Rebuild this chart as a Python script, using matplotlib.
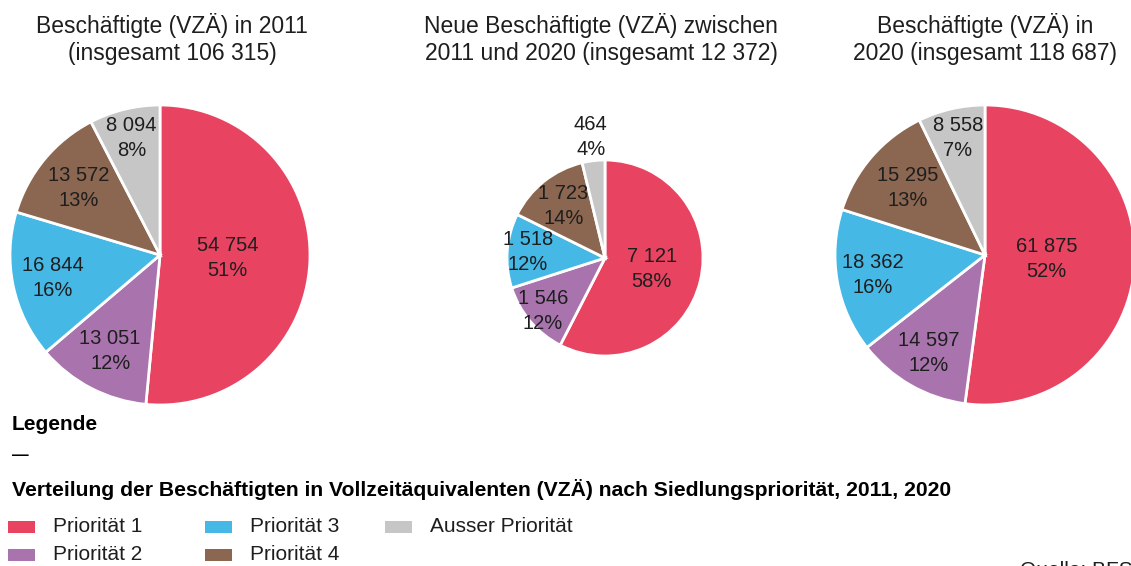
import numpy as np
import matplotlib
matplotlib.use("Agg")
import matplotlib.pyplot as plt
from matplotlib.patches import Rectangle

plt.rcParams['font.family'] = ['Liberation Sans', 'DejaVu Sans']

W, H = 1131, 566
TXT = '#1e1e1e'

categories = ['Priorität 1', 'Priorität 2', 'Priorität 3', 'Priorität 4', 'Ausser Priorität']
colors = ['#e84361', '#a974ae', '#45b8e5', '#8b6650', '#c6c6c6']

vals_2011 = [54754, 13051, 16844, 13572, 8094]
vals_new = [7121, 1546, 1518, 1723, 464]
vals_2020 = [61875, 14597, 18362, 15295, 8558]

lbl_2011 = ['54 754', '13 051', '16 844', '13 572', '8 094']
lbl_new = ['7 121', '1 546', '1 518', '1 723', '464']
lbl_2020 = ['61 875', '14 597', '18 362', '15 295', '8 558']

pct_2011 = ['51%', '12%', '16%', '13%', '8%']
pct_new = ['58%', '12%', '12%', '14%', '4%']
pct_2020 = ['52%', '12%', '16%', '13%', '7%']

titles = ['Beschäftigte (VZÄ) in 2011\n(insgesamt 106 315)',
          'Neue Beschäftigte (VZÄ) zwischen\n2011 und 2020 (insgesamt 12 372)',
          'Beschäftigte (VZÄ) in\n2020 (insgesamt 118 687)']

fig = plt.figure(figsize=(W / 100, H / 100), dpi=100)


def px_axes(cx, cy, r):
    return fig.add_axes([(cx - r) / W, (H - cy - r) / H, 2 * r / W, 2 * r / H])


def draw_pie(cx, cy, r, vals, lbls, pcts, dists):
    ax = px_axes(cx, cy, r)
    wedges, _ = ax.pie(vals, colors=colors, startangle=90, counterclock=False,
                       wedgeprops=dict(edgecolor='white', linewidth=2))
    for w, l, p, d in zip(wedges, lbls, pcts, dists):
        th = np.deg2rad((w.theta1 + w.theta2) / 2)
        ax.text(d * np.cos(th), d * np.sin(th), l + '\n' + p, ha='center', va='center',
                fontsize=14.5, color=TXT, linespacing=1.4)
    ax.set_xlim(-1, 1)
    ax.set_ylim(-1, 1)
    ax.axis('off')
    return ax


draw_pie(160, 255, 150, vals_2011, lbl_2011, pct_2011, [0.45, 0.72, 0.73, 0.7, 0.8])
draw_pie(605, 258, 98, vals_new, lbl_new, pct_new, [0.49, 0.83, 0.79, 0.68, 1.24])
draw_pie(985, 255, 150, vals_2020, lbl_2020, pct_2020, [0.41, 0.75, 0.76, 0.68, 0.8])

for x, t in zip([172, 601, 985], titles):
    fig.text(x / W, 1 - 39 / H, t, ha='center', va='center', fontsize=16.5,
             color=TXT, linespacing=1.25)

# legend block
fig.text(12 / W, 1 - 425 / H, 'Legende', fontsize=15, fontweight='bold', va='center')
fig.text(12 / W, 1 - 456 / H, '—', fontsize=12, fontweight='bold', va='center')
fig.text(12 / W, 1 - 490 / H,
         'Verteilung der Beschäftigten in Vollzeitäquivalenten (VZÄ) nach Siedlungspriorität, 2011, 2020',
         fontsize=15.2, fontweight='bold', va='center')

pos = [(8, 527), (8, 555), (205, 527), (205, 555), (385, 527)]
for (x, y), c, name in zip(pos, colors, categories):
    fig.patches.append(Rectangle((x / W, (H - y - 6) / H), 27 / W, 12 / H,
                                 transform=fig.transFigure, facecolor=c, edgecolor='none'))
    fig.text((x + 45) / W, 1 - y / H, name, fontsize=15, va='center', color=TXT)

fig.text(1020 / W, 1 - 561 / H, 'Quelle: BFS', fontsize=15, va='top', color=TXT)

fig.savefig('out.png', dpi=100)
